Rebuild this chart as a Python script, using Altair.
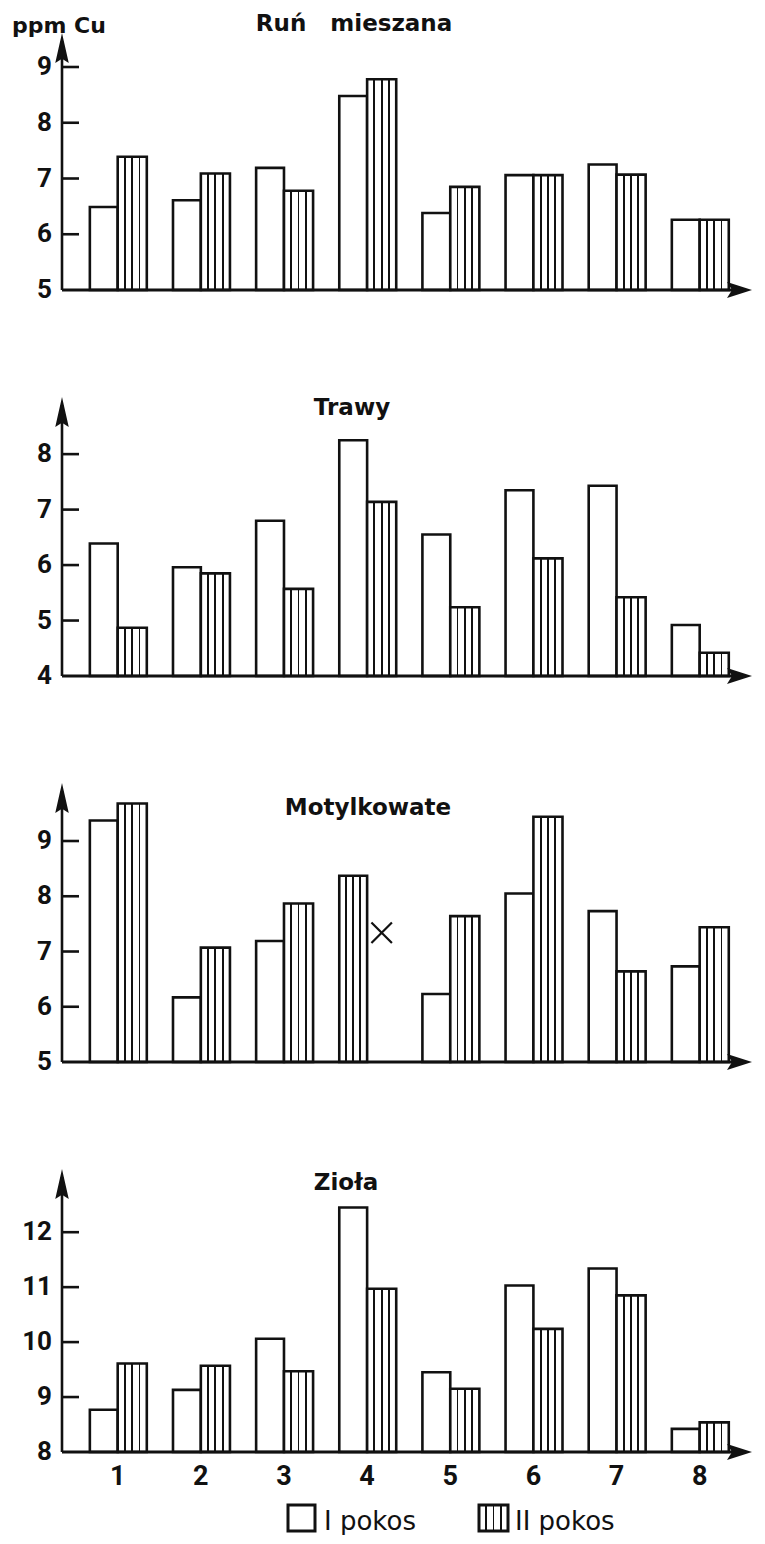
import altair as alt
import pandas as pd

# ---------------- data ----------------
groups = [1, 2, 3, 4, 5, 6, 7, 8]
x_labels = ["1", "2", "3", "4", "5", "6", "7", "8"]

ruch_I = [6.49, 6.61, 7.19, 8.48, 6.38, 7.06, 7.25, 6.26]
ruch_II = [7.39, 7.09, 6.78, 8.78, 6.85, 7.06, 7.07, 6.26]
ruch_ticks = [5, 6, 7, 8, 9]

trawy_I = [6.39, 5.96, 6.80, 8.25, 6.55, 7.35, 7.43, 4.92]
trawy_II = [4.87, 5.85, 5.57, 7.14, 5.24, 6.12, 5.42, 4.42]
trawy_ticks = [4, 5, 6, 7, 8]

motyl_I = [9.37, 6.17, 7.19, None, 6.23, 8.05, 7.73, 6.73]
motyl_II = [9.68, 7.07, 7.87, 8.37, 7.64, 9.44, 6.64, 7.44]
motyl_ticks = [5, 6, 7, 8, 9]
motyl_missing_group = [4]
motyl_missing_value = [7.34]

ziola_I = [8.77, 9.13, 10.06, 12.45, 9.45, 11.03, 11.34, 8.42]
ziola_II = [9.61, 9.57, 9.47, 10.97, 9.15, 10.24, 10.85, 8.54]
ziola_ticks = [8, 9, 10, 11, 12]

titles = ["Ruń\u00a0\u00a0\u00a0mieszana", "Trawy", "Motylkowate", "Zioła"]
unit_label = ["ppm Cu"]
legend_labels = ["I pokos", "II pokos"]

# ---------------- style / layout ----------------
W = 690
X_DOMAIN = [0.33, 0.33 + W / 83.14]
BLACK = "#111111"
SW = 2.6
TITLE_FONT = "DejaVu Sans"
NUM_FONT = "Roboto"

stripes = [0.25, 0.5, 0.75]
hw = 0.032
stops = []
for c in stripes:
    stops += [{"color": "white", "offset": round(c - hw, 3)},
              {"color": BLACK, "offset": round(c - hw, 3)},
              {"color": BLACK, "offset": round(c + hw, 3)},
              {"color": "white", "offset": round(c + hw, 3)}]
stops = [{"color": "white", "offset": 0}] + stops + [{"color": "white", "offset": 1}]
HATCH = {"gradient": "linear", "x1": 0, "x2": 1, "y1": 0, "y2": 0, "stops": stops}

XS = alt.Scale(domain=X_DOMAIN, nice=False, zero=False)

# arrow heads as symmetric custom symbols (unit square)
Y_ARROW = "M0,-1L0.45,1L0,0.72L-0.45,1Z"      # size 900 -> 30 px long
X_ARROW = "M1,0L-1,-0.64L-0.6,0L-1,0.64Z"      # size 625 -> 25 px long
X_MARK = "M-1,-1L1,1M-1,1L1,-1"


def bar_table(I, II):
    rows = []
    for g, a, b in zip(groups, I, II):
        if a is None:
            rows.append({"g": g, "v": b, "s": "II", "slot": -1})
        else:
            rows.append({"g": g, "v": a, "s": "I", "slot": -1})
            rows.append({"g": g, "v": b, "s": "II", "slot": 1})
    return pd.DataFrame(rows)


one = pd.DataFrame({"k": [0]})


def panel(I, II, ticks, ymax, H, title, tx, ty, extra_layers=None, bottom=False, top=False):
    ymin = ticks[0]
    YS = alt.Scale(domain=[ymin, ymax], nice=False, zero=False)
    df = bar_table(I, II)
    base = alt.Chart(df).transform_calculate(
        x1="datum.slot < 0 ? datum.g - 0.335 : datum.g",
        x2="datum.slot < 0 ? datum.g : datum.g + 0.35",
    )
    enc = dict(
        x=alt.X("x1:Q", scale=XS, axis=None),
        x2="x2:Q",
        y=alt.Y("v:Q", scale=YS, axis=None),
        y2=alt.datum(ymin),
    )
    bars_I = base.transform_filter("datum.s == 'I'").mark_rect(
        fill="white", stroke=BLACK, strokeWidth=SW).encode(**enc)
    bars_II = base.transform_filter("datum.s == 'II'").mark_rect(
        fill=HATCH, stroke=BLACK, strokeWidth=SW).encode(**enc)

    tdf = pd.DataFrame({"t": ticks})
    tick_rules = alt.Chart(tdf).transform_filter(f"datum.t > {ymin}").mark_rule(
        color=BLACK, strokeWidth=SW).encode(
        x=alt.value(0), x2=alt.value(17), y=alt.Y("t:Q", scale=YS, axis=None))
    tick_labels = alt.Chart(tdf).mark_text(
        align="right", baseline="middle", font=NUM_FONT, fontSize=26,
        fontWeight="bold", color=BLACK).encode(
        x=alt.value(-10), y=alt.Y("t:Q", scale=YS, axis=None), text="t:Q")

    yaxis = alt.Chart(one).mark_rule(color=BLACK, strokeWidth=SW).encode(
        x=alt.value(0), y=alt.value(8), y2=alt.value(H))
    xaxis = alt.Chart(one).mark_rule(color=BLACK, strokeWidth=SW + 0.4).encode(
        x=alt.value(0), x2=alt.value(W - 18), y=alt.value(H))
    yarrow = alt.Chart(one).mark_point(shape=Y_ARROW, filled=True, size=900,
                                       color=BLACK, opacity=1, strokeWidth=0).encode(
        x=alt.value(0), y=alt.value(15))
    xarrow = alt.Chart(one).mark_point(shape=X_ARROW, filled=True, size=625,
                                       color=BLACK, opacity=1, strokeWidth=0).encode(
        x=alt.value(W - 12.5), y=alt.value(H))

    ttl = alt.Chart(pd.DataFrame({"t": [title]})).mark_text(
        align="center", baseline="alphabetic", font=TITLE_FONT, fontSize=23,
        fontWeight="bold", color=BLACK).encode(
        x=alt.value(tx), y=alt.value(ty), text="t:N")

    layers = [bars_I, bars_II, tick_rules, tick_labels, yaxis, xaxis, yarrow, xarrow, ttl]

    if top:
        layers.append(alt.Chart(pd.DataFrame({"t": unit_label})).mark_text(
            align="left", baseline="alphabetic", font=TITLE_FONT, fontSize=22,
            fontWeight="bold", color=BLACK).encode(
            x=alt.value(-50), y=alt.value(0), text="t:N"))

    if extra_layers:
        layers += extra_layers(YS)

    if bottom:
        xl = alt.Chart(pd.DataFrame({"g": groups, "l": x_labels})).mark_text(
            align="center", baseline="alphabetic", font=NUM_FONT, fontSize=27,
            fontWeight="bold", color=BLACK).encode(
            x=alt.X("g:Q", scale=XS, axis=None), y=alt.value(H + 33), text="l:N")
        box1 = alt.Chart(one).mark_rect(fill="white", stroke=BLACK, strokeWidth=3).encode(
            x=alt.value(226), x2=alt.value(253), y=alt.value(H + 53), y2=alt.value(H + 79))
        box2 = alt.Chart(one).mark_rect(fill=HATCH, stroke=BLACK, strokeWidth=3).encode(
            x=alt.value(417), x2=alt.value(446), y=alt.value(H + 53), y2=alt.value(H + 79))
        ldf = pd.DataFrame({"l": legend_labels, "px": [262, 453]})
        ltxt = alt.Chart(ldf).mark_text(
            align="left", baseline="alphabetic", font=TITLE_FONT, fontSize=26,
            color=BLACK).encode(
            x=alt.X("px:Q", scale=None), y=alt.value(H + 78), text="l:N")
        layers += [xl, box1, box2, ltxt]

    return alt.layer(*layers).properties(width=W, height=H)


def motyl_extra(YS):
    mdf = pd.DataFrame({"g": motyl_missing_group, "v": motyl_missing_value})
    return [alt.Chart(mdf).transform_calculate(xc="datum.g + 0.175").mark_point(
        shape=X_MARK, filled=False, size=420, color=BLACK, strokeWidth=2.2, opacity=1).encode(
        x=alt.X("xc:Q", scale=XS, axis=None), y=alt.Y("v:Q", scale=YS, axis=None))]


p1 = panel(ruch_I, ruch_II, ruch_ticks, 9.61, 257, titles[0], 292, -2, top=True)
p2 = panel(trawy_I, trawy_II, trawy_ticks, 9.03, 279, titles[1], 290, 18)
p3 = panel(motyl_I, motyl_II, motyl_ticks, 10.05, 279, titles[2], 306, 32, extra_layers=motyl_extra)
p4 = panel(ziola_I, ziola_II, ziola_ticks, 13.15, 283, titles[3], 284, 21, bottom=True)

chart = alt.vconcat(p1, p2, p3, p4, spacing=107, bounds="flush").properties(
    padding={"left": 4, "top": 5, "right": 0, "bottom": 0}
).configure_view(stroke=None)

chart.save("out.html", embed_options={"renderer": "svg", "actions": False})
